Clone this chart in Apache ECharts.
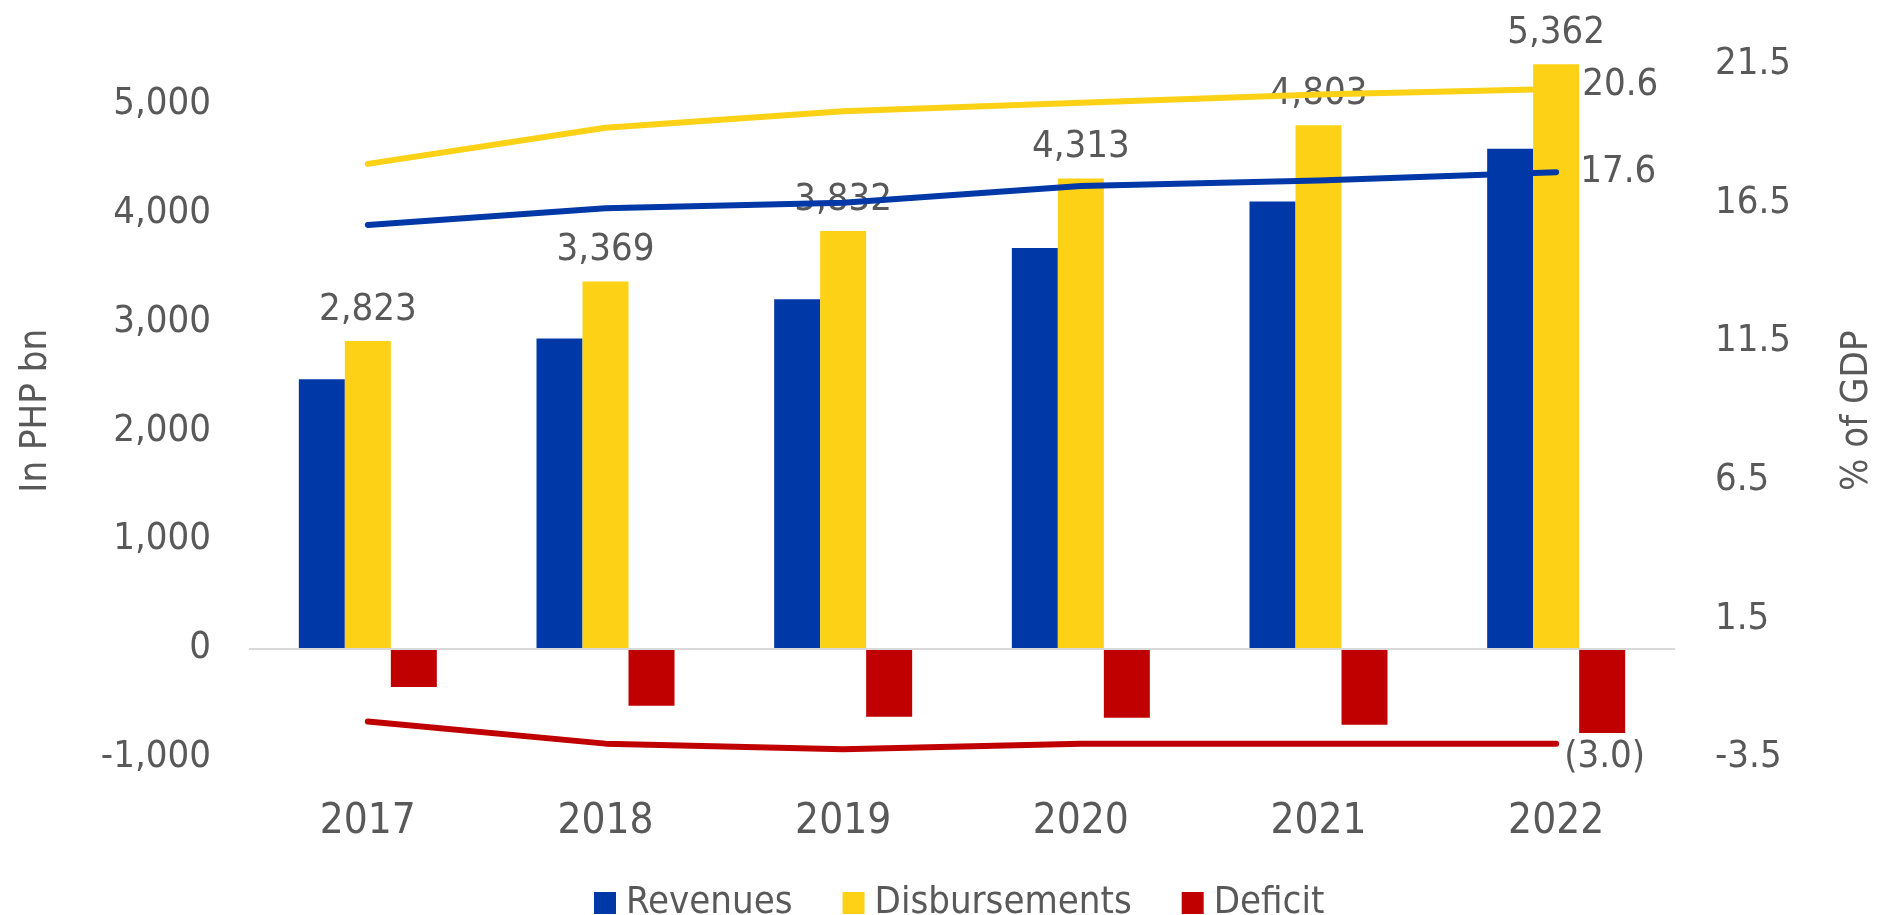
<!DOCTYPE html>
<html>
<head>
<meta charset="utf-8">
<script src="https://cdn.jsdelivr.net/npm/echarts@6/dist/echarts.min.js"></script>
<style>
  html, body { margin: 0; padding: 0; background: #ffffff; }
  #chart { width: 1879px; height: 915px; }
</style>
</head>
<body>
<div id="chart"></div>
<script>
// ---- Data ----
const categories = ['2017', '2018', '2019', '2020', '2021', '2022'];
const revenues = [2471, 2845, 3207, 3677, 4103, 4588];
const disbursements = [2823, 3369, 3832, 4313, 4803, 5362];
const deficit = [-352, -524, -625, -636, -700, -774];
const revenuesPctGDP = [15.7, 16.3, 16.5, 17.1, 17.3, 17.6];
const disbursementsPctGDP = [17.9, 19.2, 19.8, 20.1, 20.4, 20.6];
const deficitPctGDP = [-2.2, -3.0, -3.2, -3.0, -3.0, -3.0];
const leftTicks = [-1000, 0, 1000, 2000, 3000, 4000, 5000];
const rightTicks = [-3.5, 1.5, 6.5, 11.5, 16.5, 21.5];

// ---- Styling ----
const FONT = "'DejaVu Sans Condensed', Roboto, 'DejaVu Sans', sans-serif";
const TXT = '#595959';
const BLUE = '#0038A8';
const YELLOW = '#FCD116';
const RED = '#C00000';

const RIGHT_SHIFT = -rightTicks[0]; // right axis drawn on a 0-based scale
const fmtThousands = v => v.toLocaleString('en-US');
const shift = arr => arr.map(v => v + RIGHT_SHIFT);

function endLabel(text, distance, offset) {
  return {
    show: true,
    formatter: () => text,
    color: TXT,
    fontFamily: FONT,
    fontSize: 38,
    distance: distance,
    offset: offset
  };
}

const chart = echarts.init(document.getElementById('chart'), null, { renderer: 'canvas' });

const option = {
  backgroundColor: '#ffffff',
  animation: false,
  textStyle: { fontFamily: FONT, color: TXT },
  grid: {
    left: 249, right: 204, top: 64, bottom: 157.5,
    containLabel: false,
    outerBoundsMode: 'none'
  },
  legend: {
    data: ['Revenues', 'Disbursements', 'Deficit'],
    left: 589,
    top: 879,
    icon: 'rect',
    itemWidth: 22,
    itemHeight: 22,
    itemGap: 50,
    textStyle: { color: TXT, fontFamily: FONT, fontSize: 38, padding: [0, 0, 0, 5] }
  },
  xAxis: {
    type: 'category',
    data: categories,
    axisLine: { show: false, onZero: false },
    axisTick: { show: false },
    axisLabel: { color: TXT, fontFamily: FONT, fontSize: 42, margin: 44 },
    splitLine: { show: false }
  },
  yAxis: [
    {
      type: 'value',
      min: leftTicks[0],
      max: 5365,
      interval: 1000,
      position: 'left',
      axisLine: { show: false },
      axisTick: { show: false },
      splitLine: { show: false },
      axisLabel: {
        color: TXT, fontFamily: FONT, fontSize: 38, margin: 38,
        formatter: v => (leftTicks.indexOf(v) >= 0 ? fmtThousands(v) : '')
      },
      name: 'In PHP bn',
      nameLocation: 'middle',
      nameRotate: 90,
      nameGap: 194,
      nameTextStyle: { color: TXT, fontFamily: FONT, fontSize: 38 }
    },
    {
      type: 'value',
      min: 0,
      max: rightTicks[rightTicks.length - 1] + RIGHT_SHIFT,
      interval: 5,
      position: 'right',
      axisLine: { show: false },
      axisTick: { show: false },
      splitLine: { show: false },
      axisLabel: {
        color: TXT, fontFamily: FONT, fontSize: 38, margin: 40,
        formatter: v => (v - RIGHT_SHIFT).toFixed(1)
      },
      name: '% of GDP',
      nameLocation: 'middle',
      nameRotate: 90,
      nameGap: 163,
      nameTextStyle: { color: TXT, fontFamily: FONT, fontSize: 38 }
    }
  ],
  series: [
    {
      name: 'Revenues',
      type: 'bar',
      yAxisIndex: 0,
      data: revenues,
      barWidth: 46,
      barGap: '0%',
      itemStyle: { color: BLUE },
      z: 2,
      markLine: {
        silent: true,
        symbol: 'none',
        label: { show: false },
        lineStyle: { color: '#d9d9d9', width: 2, type: 'solid' },
        data: [{ yAxis: 0 }]
      }
    },
    {
      name: 'Disbursements',
      type: 'bar',
      yAxisIndex: 0,
      data: disbursements,
      barWidth: 46,
      barGap: '0%',
      itemStyle: { color: YELLOW },
      z: 2,
      label: {
        show: true,
        position: 'top',
        distance: 12,
        color: TXT,
        fontFamily: FONT,
        fontSize: 38,
        formatter: p => fmtThousands(p.value)
      }
    },
    {
      name: 'Deficit',
      type: 'bar',
      yAxisIndex: 0,
      data: deficit,
      barWidth: 46,
      barGap: '0%',
      itemStyle: { color: RED },
      z: 2
    },
    {
      name: 'Disbursements (% of GDP)',
      type: 'line',
      yAxisIndex: 1,
      data: shift(disbursementsPctGDP),
      symbol: 'none',
      lineStyle: { color: YELLOW, width: 6, cap: 'round', join: 'round' },
      itemStyle: { color: YELLOW },
      endLabel: endLabel(disbursementsPctGDP[5].toFixed(1), 26, [0, -4]),
      z: 5
    },
    {
      name: 'Revenues (% of GDP)',
      type: 'line',
      yAxisIndex: 1,
      data: shift(revenuesPctGDP),
      symbol: 'none',
      lineStyle: { color: BLUE, width: 6, cap: 'round', join: 'round' },
      itemStyle: { color: BLUE },
      endLabel: endLabel(revenuesPctGDP[5].toFixed(1), 24, [0, 0]),
      z: 5
    },
    {
      name: 'Deficit (% of GDP)',
      type: 'line',
      yAxisIndex: 1,
      data: shift(deficitPctGDP),
      symbol: 'none',
      lineStyle: { color: RED, width: 6, cap: 'round', join: 'round' },
      itemStyle: { color: RED },
      endLabel: endLabel('(' + Math.abs(deficitPctGDP[5]).toFixed(1) + ')', 8, [0, 13]),
      z: 5
    }
  ]
};

chart.setOption(option);
</script>
</body>
</html>
